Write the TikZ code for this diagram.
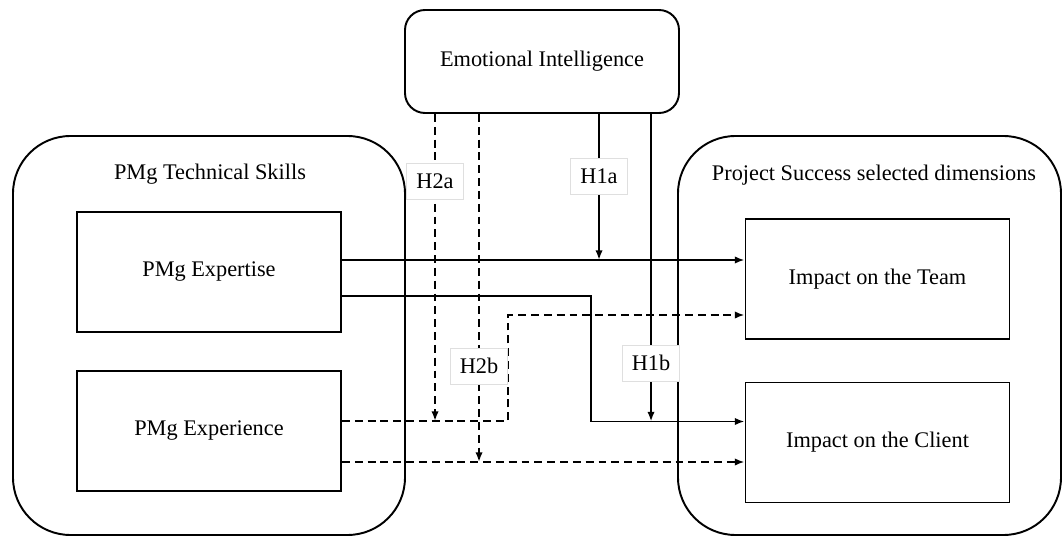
\documentclass[tikz,border=0pt]{standalone}
\usepackage{fontspec}
\setmainfont{Liberation Serif}
\usetikzlibrary{calc,arrows.meta}

\begin{document}
\begin{tikzpicture}[
    line width=1.1pt,
    every node/.style={font=\fontsize{12.7pt}{15pt}\selectfont},
    group/.style={draw,rounded corners=1.15cm,minimum height=7.98cm},
    box/.style={draw,minimum width=5.28cm,minimum height=2.4cm},
    hyp/.style={draw=gray!25,solid,line width=0.4pt,fill=white,inner sep=0pt,minimum width=1.14cm,minimum height=0.72cm},
    link/.style={-{Latex[length=5.5pt,width=4.2pt]}},
    dlink/.style={link,dash pattern=on 4.5pt off 2.8pt}
  ]
  \useasboundingbox (0,0) rectangle (21.26,-10.74);
  \node[draw,rounded corners=0.4cm,minimum width=5.48cm,minimum height=2.06cm] (ei) at (10.84,-1.23) {Emotional Intelligence};
  \node[group,minimum width=7.84cm] (skills) at (4.18,-6.71) {};
  \node[group,minimum width=7.66cm] (success) at (17.39,-6.71) {};
  \node (skillstitle) at (4.2,-3.48) {PMg Technical Skills};
  \node (successtitle) at (17.48,-3.5) {Project Success selected dimensions};
  \node[box] (expertise) at (4.18,-5.44) {PMg Expertise};
  \node[box] (experience) at (4.18,-8.62) {PMg Experience};
  \node[box] (team) at (17.55,-5.58) {Impact on the Team};
  \node[box] (client) at (17.55,-8.85) {Impact on the Client};

  \coordinate (a1) at ($(expertise.east)+(0,0.24)$);
  \coordinate (a2) at ($(expertise.east)+(0,-0.48)$);
  \coordinate (b1) at ($(experience.east)+(0,0.2)$);
  \coordinate (b2) at ($(experience.east)+(0,-0.62)$);
  \draw[link] (a1) -- (a1 -| team.west);
  \draw[link] (a2) -- ++(4.98,0) |- ($(client.west)+(0,0.42)$);
  \draw[dlink] (b1) -- ++(3.32,0) |- ($(team.west)+(0,-0.72)$);
  \draw[dlink] (b2) -- (b2 -| client.west);

  % hypotheses
  \coordinate (h2a) at ($(ei.south west)+(0.62,0)$);
  \coordinate (h2b) at ($(ei.south west)+(1.5,0)$);
  \coordinate (h1a) at ($(ei.south west)+(3.9,0)$);
  \coordinate (h1b) at ($(ei.south west)+(4.94,0)$);
  \draw[dlink] (h2a) -- node[hyp,pos=0.22] (lh2a) {H2a} (h2a |- b1);
  \draw[dlink] (h2b) -- node[hyp,pos=0.725] (lh2b) {H2b} (h2b |- b2);
  \draw[link] (h1a) -- node[hyp,pos=0.425] (lh1a) {H1a} (h1a |- a1);
  \draw[link] (h1b) -- node[hyp,pos=0.81] (lh1b) {H1b} ($(h1b |- client.west)+(0,0.42)$);
\end{tikzpicture}
\end{document}
